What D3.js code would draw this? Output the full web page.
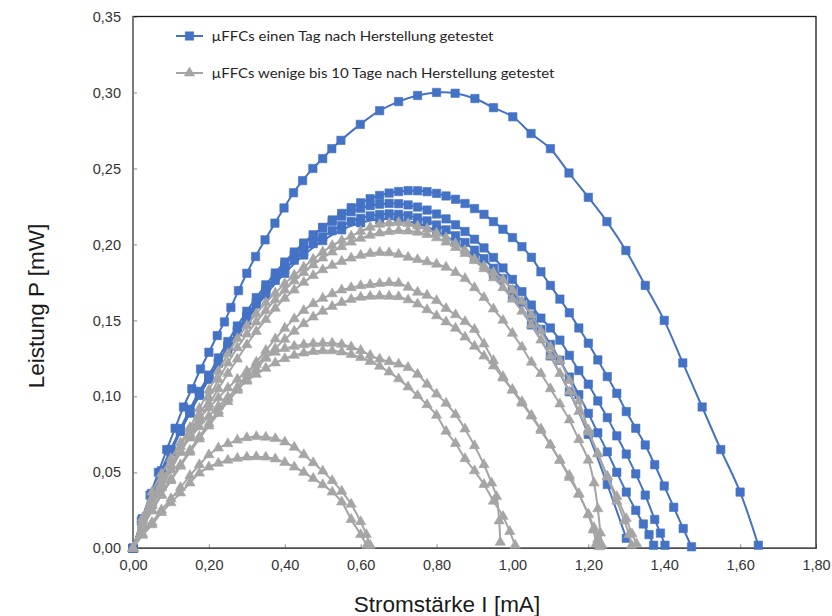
<!DOCTYPE html>
<html>
<head>
<meta charset="utf-8">
<script src="https://cdn.jsdelivr.net/npm/d3@7"></script>
<style>
  html, body { margin: 0; padding: 0; background: #fff; }
  svg { display: block; }
</style>
</head>
<body>
<svg id="chart" width="832" height="616"></svg>
<script>
// Power curves P(I) of the µFFC cells: [current in mA, power in mW]

// cells tested one day after fabrication
const blueA = [[0,0],[0.022,0.018],[0.045,0.035],[0.067,0.050],[0.089,0.065],[0.111,0.079],[0.133,0.093],[0.155,0.105],[0.178,0.118],[0.200,0.129],[0.222,0.140],[0.241,0.149],[0.258,0.1585],[0.278,0.1696],[0.300,0.181],[0.323,0.192],[0.348,0.203],[0.374,0.214],[0.398,0.224],[0.423,0.234],[0.447,0.242],[0.474,0.250],[0.500,0.2565],[0.524,0.263],[0.548,0.2685],[0.599,0.279],[0.650,0.288],[0.700,0.294],[0.750,0.298],[0.800,0.300],[0.849,0.2995],[0.901,0.296],[0.950,0.290],[1.001,0.284],[1.049,0.273],[1.100,0.263],[1.149,0.247],[1.200,0.231],[1.249,0.215],[1.299,0.196],[1.350,0.173],[1.400,0.150],[1.449,0.122],[1.500,0.093],[1.549,0.065],[1.600,0.037],[1.648,0.002]];
const blueB = [[0,0],[0.025,0.019],[0.05,0.0355],[0.075,0.050],[0.1,0.064],[0.125,0.077],[0.15,0.089],[0.175,0.101],[0.2,0.112],[0.225,0.122],[0.25,0.1328],[0.275,0.1431],[0.3,0.1528],[0.325,0.1621],[0.35,0.1707],[0.375,0.1788],[0.4,0.1864],[0.425,0.1934],[0.45,0.1999],[0.475,0.2059],[0.5,0.2112],[0.525,0.2161],[0.55,0.2204],[0.575,0.2242],[0.6,0.2274],[0.625,0.2301],[0.65,0.2322],[0.675,0.2338],[0.7,0.2348],[0.725,0.2354],[0.75,0.2353],[0.775,0.2347],[0.8,0.2336],[0.825,0.2319],[0.85,0.2297],[0.875,0.2269],[0.9,0.2236],[0.925,0.2198],[0.95,0.2150],[0.975,0.2100],[1.0,0.2045],[1.025,0.1985],[1.05,0.1915],[1.075,0.182],[1.1,0.173],[1.125,0.164],[1.15,0.155],[1.175,0.145],[1.2,0.135],[1.225,0.124],[1.25,0.113],[1.275,0.102],[1.3,0.090],[1.325,0.079],[1.35,0.068],[1.375,0.055],[1.4,0.041],[1.425,0.027],[1.45,0.013],[1.472,0.001]];
const blueC = [[0,0],[0.025,0.0195],[0.05,0.036],[0.075,0.051],[0.1,0.065],[0.125,0.0788],[0.15,0.0915],[0.175,0.1033],[0.2,0.114],[0.225,0.1253],[0.25,0.1361],[0.275,0.1463],[0.3,0.156],[0.325,0.165],[0.35,0.1734],[0.375,0.1812],[0.4,0.1884],[0.425,0.195],[0.45,0.2009],[0.475,0.2063],[0.5,0.211],[0.525,0.2151],[0.55,0.2186],[0.575,0.2215],[0.6,0.2238],[0.625,0.2255],[0.65,0.2265],[0.675,0.227],[0.7,0.2268],[0.725,0.226],[0.75,0.2246],[0.775,0.2226],[0.8,0.22],[0.825,0.2168],[0.85,0.2129],[0.875,0.2085],[0.9,0.2034],[0.925,0.1977],[0.95,0.1914],[0.975,0.1845],[1.0,0.177],[1.025,0.1689],[1.05,0.1601],[1.075,0.1515],[1.1,0.145],[1.125,0.137],[1.15,0.127],[1.175,0.117],[1.2,0.108],[1.225,0.097],[1.25,0.086],[1.275,0.074],[1.3,0.062],[1.325,0.049],[1.35,0.035],[1.375,0.019],[1.39,0.010],[1.402,0.002]];
const blueD = [[0,0],[0.025,0.019],[0.05,0.035],[0.075,0.0495],[0.1,0.0635],[0.125,0.0769],[0.15,0.0893],[0.175,0.1006],[0.2,0.1112],[0.225,0.122],[0.25,0.1325],[0.275,0.1425],[0.3,0.1518],[0.325,0.1606],[0.35,0.1687],[0.375,0.1763],[0.4,0.1832],[0.425,0.1896],[0.45,0.1953],[0.475,0.2005],[0.5,0.205],[0.525,0.209],[0.55,0.2123],[0.575,0.2151],[0.6,0.2172],[0.625,0.2188],[0.65,0.2197],[0.675,0.2201],[0.7,0.2198],[0.725,0.219],[0.75,0.2175],[0.775,0.2155],[0.8,0.2128],[0.825,0.2096],[0.85,0.2057],[0.875,0.2013],[0.9,0.1962],[0.925,0.1906],[0.95,0.1843],[0.975,0.1775],[1.0,0.170],[1.025,0.162],[1.05,0.1533],[1.075,0.1441],[1.1,0.1342],[1.125,0.1238],[1.15,0.1127],[1.175,0.1011],[1.2,0.0888],[1.225,0.076],[1.25,0.0635],[1.275,0.050],[1.3,0.037],[1.325,0.025],[1.345,0.016],[1.36,0.009],[1.372,0.002]];
const blueE = [[0,0],[0.05,0.036],[0.1,0.065],[0.15,0.090],[0.2,0.112],[0.25,0.131],[0.3,0.150],[0.35,0.167],[0.4,0.181],[0.45,0.193],[0.5,0.2025],[0.55,0.2096],[0.6,0.2142],[0.65,0.2165],[0.7,0.2163],[0.75,0.2138],[0.8,0.2088],[0.85,0.2015],[0.9,0.1917],[0.95,0.1796],[1.0,0.165],[1.05,0.147],[1.1,0.1266],[1.15,0.103],[1.2,0.075],[1.25,0.042],[1.3,0.0066]];

// cells tested a few up to 10 days after fabrication
const grey1 = [[0,0],[0.025,0.016],[0.05,0.030],[0.075,0.0425],[0.1,0.0545],[0.125,0.067],[0.15,0.0795],[0.175,0.092],[0.2,0.104],[0.225,0.1165],[0.25,0.128],[0.275,0.138],[0.3,0.1465],[0.325,0.1544],[0.35,0.1617],[0.375,0.168],[0.4,0.1742],[0.425,0.1797],[0.45,0.185],[0.475,0.1902],[0.5,0.195],[0.525,0.1992],[0.55,0.2025],[0.575,0.2054],[0.6,0.2086],[0.625,0.2113],[0.65,0.2132],[0.675,0.214],[0.7,0.2144],[0.725,0.2137],[0.75,0.2121],[0.775,0.2102],[0.8,0.2073],[0.825,0.2043],[0.85,0.2005],[0.875,0.196],[0.9,0.1903],[0.925,0.1857],[0.95,0.1816],[0.975,0.1768],[1.0,0.170],[1.025,0.1625],[1.05,0.1535],[1.075,0.143],[1.1,0.1325],[1.125,0.1235],[1.15,0.1105],[1.175,0.0968],[1.2,0.078],[1.225,0.0625],[1.25,0.0475],[1.275,0.034],[1.3,0.0195],[1.315,0.0095],[1.327,0.003]];
const grey2 = [[0,0],[0.025,0.015],[0.05,0.028],[0.075,0.040],[0.1,0.0515],[0.125,0.0635],[0.15,0.0755],[0.175,0.0875],[0.2,0.099],[0.225,0.111],[0.25,0.122],[0.275,0.132],[0.3,0.141],[0.325,0.149],[0.35,0.1565],[0.375,0.1635],[0.4,0.170],[0.425,0.176],[0.45,0.1815],[0.475,0.1865],[0.5,0.191],[0.525,0.195],[0.55,0.1985],[0.575,0.2015],[0.6,0.204],[0.625,0.206],[0.65,0.2075],[0.675,0.2085],[0.7,0.209],[0.725,0.2088],[0.75,0.208],[0.775,0.2065],[0.8,0.2043],[0.825,0.2015],[0.85,0.198],[0.875,0.194],[0.9,0.1893],[0.925,0.184],[0.95,0.178],[0.975,0.1715],[1.0,0.164],[1.025,0.156],[1.05,0.147],[1.075,0.137],[1.1,0.1265],[1.125,0.115],[1.15,0.103],[1.175,0.090],[1.2,0.0765],[1.225,0.062],[1.25,0.047],[1.275,0.031],[1.295,0.018],[1.307,0.009],[1.314,0.002]];
const grey3 = [[0,0],[0.025,0.0155],[0.05,0.0285],[0.075,0.0405],[0.1,0.052],[0.125,0.063],[0.15,0.0743],[0.175,0.0845],[0.2,0.0948],[0.225,0.105],[0.25,0.115],[0.275,0.1245],[0.3,0.134],[0.325,0.1427],[0.35,0.1505],[0.375,0.158],[0.4,0.1645],[0.425,0.170],[0.45,0.175],[0.475,0.1795],[0.5,0.1833],[0.525,0.1862],[0.55,0.1888],[0.575,0.191],[0.6,0.1928],[0.625,0.194],[0.65,0.1947],[0.675,0.1945],[0.7,0.1935],[0.725,0.1915],[0.75,0.190],[0.775,0.1885],[0.8,0.187],[0.825,0.185],[0.85,0.1815],[0.875,0.1775],[0.9,0.1715],[0.925,0.165],[0.95,0.1575],[0.975,0.150],[1.0,0.1415],[1.025,0.1325],[1.05,0.1225],[1.075,0.115],[1.1,0.105],[1.125,0.095],[1.15,0.0845],[1.175,0.0715],[1.2,0.058],[1.215,0.043],[1.225,0.026],[1.232,0.010],[1.236,0.002]];
const grey4 = [[0,0],[0.025,0.014],[0.05,0.0253],[0.075,0.0355],[0.1,0.0455],[0.125,0.055],[0.15,0.0645],[0.175,0.0735],[0.2,0.0822],[0.225,0.0905],[0.25,0.0985],[0.275,0.106],[0.3,0.1145],[0.325,0.1225],[0.35,0.1302],[0.375,0.1378],[0.4,0.1448],[0.425,0.151],[0.45,0.1565],[0.475,0.161],[0.5,0.1645],[0.525,0.1675],[0.55,0.170],[0.575,0.1715],[0.6,0.1728],[0.625,0.1735],[0.65,0.1742],[0.675,0.1748],[0.7,0.1745],[0.725,0.1718],[0.75,0.1685],[0.775,0.1665],[0.8,0.163],[0.825,0.1578],[0.85,0.1537],[0.875,0.1492],[0.9,0.144],[0.925,0.1345],[0.95,0.1235],[0.975,0.113],[1.0,0.1045],[1.025,0.0965],[1.05,0.0875],[1.075,0.0785],[1.1,0.068],[1.125,0.058],[1.15,0.0465],[1.175,0.0355],[1.2,0.0225],[1.215,0.0135],[1.225,0.006],[1.229,0.001]];
const grey5 = [[0,0],[0.025,0.0135],[0.05,0.0245],[0.075,0.0348],[0.1,0.0445],[0.125,0.054],[0.15,0.0632],[0.175,0.072],[0.2,0.0805],[0.225,0.0887],[0.25,0.0965],[0.275,0.104],[0.3,0.111],[0.325,0.118],[0.35,0.125],[0.375,0.1315],[0.4,0.1375],[0.425,0.1428],[0.45,0.1478],[0.475,0.1522],[0.5,0.156],[0.525,0.1592],[0.55,0.1618],[0.575,0.1638],[0.6,0.1652],[0.625,0.1658],[0.65,0.166],[0.675,0.1659],[0.7,0.1656],[0.725,0.1635],[0.75,0.1608],[0.775,0.157],[0.8,0.153],[0.825,0.149],[0.85,0.1448],[0.875,0.139],[0.9,0.133],[0.925,0.1265],[0.95,0.120],[0.975,0.112],[1.0,0.104],[1.025,0.0955],[1.05,0.087],[1.075,0.0775],[1.1,0.068],[1.125,0.058],[1.15,0.048],[1.175,0.036],[1.2,0.022],[1.213,0.012],[1.221,0.003]];
const grey6 = [[0,0],[0.025,0.020],[0.05,0.037],[0.075,0.049],[0.1,0.059],[0.125,0.0695],[0.15,0.0785],[0.175,0.086],[0.2,0.0925],[0.225,0.099],[0.25,0.1055],[0.275,0.1113],[0.3,0.1165],[0.325,0.121],[0.35,0.1257],[0.375,0.129],[0.4,0.1315],[0.425,0.133],[0.45,0.134],[0.475,0.1347],[0.5,0.135],[0.525,0.135],[0.55,0.1342],[0.575,0.1325],[0.6,0.1302],[0.625,0.127],[0.65,0.1245],[0.675,0.1228],[0.7,0.1212],[0.725,0.119],[0.75,0.1145],[0.775,0.108],[0.8,0.1015],[0.825,0.0955],[0.85,0.088],[0.875,0.0785],[0.9,0.0675],[0.925,0.055],[0.945,0.043],[0.958,0.034],[0.965,0.018],[0.968,0.004]];
const grey7 = [[0,0],[0.025,0.018],[0.05,0.033],[0.075,0.045],[0.1,0.055],[0.125,0.064],[0.15,0.0725],[0.175,0.080],[0.2,0.087],[0.225,0.0935],[0.25,0.0995],[0.275,0.105],[0.3,0.110],[0.325,0.1145],[0.35,0.1185],[0.375,0.122],[0.4,0.1248],[0.425,0.127],[0.45,0.1285],[0.475,0.1295],[0.5,0.130],[0.525,0.130],[0.55,0.1292],[0.575,0.1275],[0.6,0.1255],[0.625,0.123],[0.65,0.1198],[0.675,0.116],[0.7,0.1115],[0.725,0.1062],[0.75,0.1005],[0.775,0.0945],[0.8,0.0875],[0.825,0.077],[0.85,0.069],[0.875,0.059],[0.9,0.051],[0.925,0.042],[0.95,0.031],[0.975,0.021],[0.993,0.011],[1.007,0.002]];
const grey8 = [[0,0],[0.025,0.0095],[0.05,0.017],[0.075,0.0252],[0.1,0.0326],[0.125,0.040],[0.15,0.0478],[0.175,0.055],[0.2,0.0615],[0.225,0.066],[0.25,0.0688],[0.275,0.0712],[0.3,0.0728],[0.325,0.0735],[0.35,0.0731],[0.375,0.0722],[0.4,0.070],[0.425,0.0665],[0.45,0.0616],[0.475,0.0563],[0.5,0.0508],[0.525,0.0445],[0.55,0.0375],[0.575,0.029],[0.6,0.0175],[0.615,0.009],[0.625,0.002]];
const grey9 = [[0,0],[0.025,0.0085],[0.05,0.0155],[0.075,0.0235],[0.1,0.030],[0.125,0.0364],[0.15,0.043],[0.175,0.0495],[0.2,0.0535],[0.225,0.056],[0.25,0.058],[0.275,0.0592],[0.3,0.060],[0.325,0.0603],[0.35,0.060],[0.375,0.0588],[0.4,0.0565],[0.425,0.0535],[0.45,0.050],[0.475,0.046],[0.5,0.0418],[0.525,0.037],[0.55,0.0305],[0.575,0.019],[0.6,0.009],[0.616,0.002]];

const blueSeries = [blueA, blueB, blueC, blueD, blueE];
const greySeries = [grey1, grey2, grey3, grey4, grey5, grey6, grey7, grey8, grey9];

const xTicks = [0, 0.2, 0.4, 0.6, 0.8, 1.0, 1.2, 1.4, 1.6, 1.8];
const yTicks = [0, 0.05, 0.10, 0.15, 0.20, 0.25, 0.30, 0.35];
const legendLabels = [
  "µFFCs einen Tag nach Herstellung getestet",
  "µFFCs wenige bis 10 Tage nach Herstellung getestet"
];
const xTitle = "Stromstärke I [mA]";
const yTitle = "Leistung P [mW]";

const BLUE = "#4472C4";
const GREY = "#A5A5A5";

const plot = { left: 133, right: 816, top: 16.5, bottom: 548.3 };

const svg = d3.select("#chart");
const x = d3.scaleLinear().domain([0, 1.8]).range([plot.left, plot.right]);
const y = d3.scaleLinear().domain([0, 0.35]).range([plot.bottom, plot.top]);
const fmt = v => d3.format(".2f")(v).replace(".", ",");

// axes with inward ticks
const gx = svg.append("g")
  .attr("transform", `translate(0,${plot.bottom})`)
  .call(d3.axisBottom(x).tickValues(xTicks).tickFormat(fmt)
    .tickSizeInner(-4).tickSizeOuter(0).tickPadding(11));
const gy = svg.append("g")
  .attr("transform", `translate(${plot.left},0)`)
  .call(d3.axisLeft(y).tickValues(yTicks).tickFormat(fmt)
    .tickSizeInner(-4).tickSizeOuter(0).tickPadding(12));
[gx, gy].forEach(g => {
  g.select(".domain").remove();
  g.selectAll(".tick line").attr("stroke", "#8c8c8c").attr("stroke-width", 1);
  g.selectAll(".tick text")
    .attr("fill", "#333333")
    .style("font-family", "'Liberation Sans', Arial, sans-serif")
    .style("font-size", "14.5px");
});

// plot frame
svg.append("rect")
  .attr("x", plot.left).attr("y", plot.top)
  .attr("width", plot.right - plot.left).attr("height", plot.bottom - plot.top)
  .attr("fill", "none").attr("stroke", "#1a1a1a").attr("stroke-width", 1.3);
svg.append("line")
  .attr("x1", plot.left).attr("x2", plot.left)
  .attr("y1", plot.top).attr("y2", plot.bottom)
  .attr("stroke", "#808080").attr("stroke-width", 1.6);
svg.append("line")
  .attr("x1", plot.left).attr("x2", plot.right)
  .attr("y1", plot.bottom).attr("y2", plot.bottom)
  .attr("stroke", "#4d4d4d").attr("stroke-width", 1.5);

const line = d3.line()
  .x(d => x(d[0])).y(d => y(d[1]))
  .curve(d3.curveCatmullRom.alpha(0.5));

const square = d3.symbol(d3.symbolSquare, 70)();
const triangle = d3.symbol(d3.symbolTriangle, 46)();

function drawSeries(data, color, shape, cls) {
  const g = svg.append("g").attr("class", cls);
  g.append("path")
    .attr("d", line(data))
    .attr("fill", "none").attr("stroke", color)
    .attr("stroke-width", 2).attr("stroke-linejoin", "round");
  g.selectAll("path.m").data(data).join("path")
    .attr("class", "m")
    .attr("d", shape)
    .attr("transform", d => `translate(${x(d[0])},${y(d[1])})`)
    .attr("fill", color).attr("stroke", color).attr("stroke-width", 0.6);
}

blueSeries.forEach((s, i) => drawSeries(s, BLUE, square, "blue-" + i));
greySeries.forEach((s, i) => drawSeries(s, GREY, triangle, "grey-" + i));

// legend
const legend = svg.append("g").attr("class", "legend");
const legendItems = [
  { label: legendLabels[0], color: BLUE, shape: square, y: 36, len: 282 },
  { label: legendLabels[1], color: GREY, shape: triangle, y: 73, len: 343 }
];
legendItems.forEach(it => {
  legend.append("line")
    .attr("x1", 176).attr("x2", 203).attr("y1", it.y).attr("y2", it.y)
    .attr("stroke", it.color).attr("stroke-width", 2);
  legend.append("path")
    .attr("d", it.shape)
    .attr("transform", `translate(189.5,${it.y})`)
    .attr("fill", it.color).attr("stroke", it.color).attr("stroke-width", 0.6);
  legend.append("text")
    .attr("x", 211.5).attr("y", it.y).attr("dy", "0.35em")
    .attr("textLength", it.len).attr("lengthAdjust", "spacingAndGlyphs")
    .attr("fill", "#262626")
    .style("font-family", "Lato, 'Open Sans', sans-serif")
    .style("font-size", "14px")
    .text(it.label);
});

// axis titles
svg.append("text")
  .attr("x", 447).attr("y", 612)
  .attr("text-anchor", "middle")
  .attr("fill", "#1a1a1a")
  .style("font-family", "'Liberation Sans', Arial, sans-serif")
  .style("font-size", "22.5px")
  .text(xTitle);
svg.append("text")
  .attr("transform", "translate(44,306) rotate(-90)")
  .attr("text-anchor", "middle")
  .attr("fill", "#1a1a1a")
  .style("font-family", "'Liberation Sans', Arial, sans-serif")
  .style("font-size", "22.5px")
  .text(yTitle);
</script>
</body>
</html>
